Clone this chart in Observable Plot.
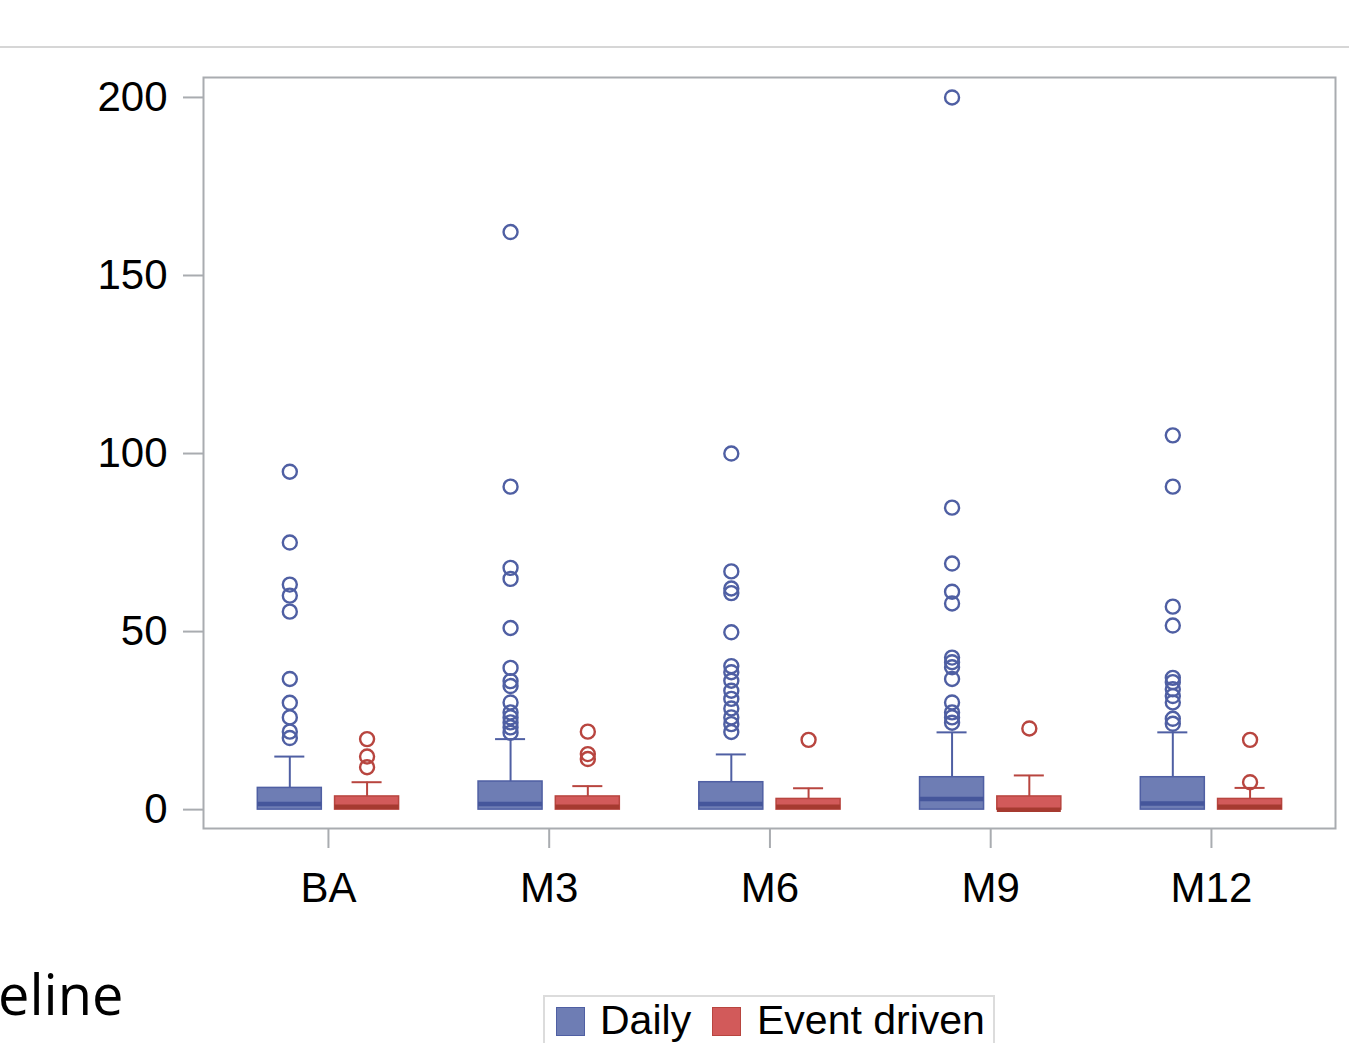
<!DOCTYPE html>
<html><head><meta charset="utf-8">
<script src="https://cdn.jsdelivr.net/npm/d3@7"></script>
<script src="https://cdn.jsdelivr.net/npm/@observablehq/plot@0.6"></script>
<style>
html,body{margin:0;padding:0;background:#fff;width:1349px;height:1043px;overflow:hidden;position:relative;font-family:"Liberation Sans",Arial,sans-serif}
#chart{position:absolute;left:0;top:0}
.topline{position:absolute;left:0;top:46px;width:1349px;height:2px;background:#d6d6d6}
.slide{position:absolute;left:-2px;top:965px;font-family:"Open Sans",sans-serif;font-size:56px;line-height:1;color:#000;white-space:nowrap}
.legend{position:absolute;left:543px;top:995px;width:452px;height:70px;border:2px solid #dcdcdc;box-sizing:border-box}
.sw{position:absolute;width:29px;height:29px;box-sizing:border-box}
.lt{position:absolute;font-size:41px;line-height:1;color:#000;white-space:nowrap}
</style></head>
<body>
<div class="topline"></div>
<div id="chart"></div>
<div class="slide">eline</div>
<div class="legend" id="legend"></div>
<script>
const categories = ["BA","M3","M6","M9","M12"];
const seriesNames = ["Daily","Event driven"];
const seriesFill = ["#6e7db4","#d25a5a"];
const seriesStroke = ["#4f5fa3","#b8453f"];
const seriesMedian = ["#45569b","#a63a30"];
const yTicks = [0,50,100,150,200];

const dailyQ1 = [0,0,0,0,0];
const dailyMedian = [1.6,1.6,1.6,3.0,1.7];
const dailyQ3 = [6.1,7.9,7.7,9.1,9.1];
const dailyWhiskerHigh = [14.9,19.8,15.5,21.7,21.7];

const eventQ1 = [0,0,0,0,0];
const eventMedian = [0.8,0.8,0.8,0,0.8];
const eventQ3 = [3.7,3.7,3.0,3.7,3.0];
const eventWhiskerHigh = [7.7,6.6,6.0,9.6,6.1];

const dailyOutliers = [
  [94.9,75.0,63.2,60.1,55.6,36.7,30.0,25.9,21.9,20.1],
  [162.2,90.7,67.9,64.8,51.0,39.8,36.1,34.7,30.1,27.3,25.9,24.5,23.1,21.6],
  [100.0,66.9,62.1,60.8,49.8,40.3,38.6,36.2,33.4,31.1,28.4,25.9,24.0,21.8],
  [200.0,84.8,69.1,61.2,57.9,42.7,41.4,40.0,36.7,30.1,27.3,25.9,24.4],
  [105.1,90.7,57.0,51.7,37.0,35.8,33.8,31.9,30.1,25.5,24.1]
];
const eventOutliers = [
  [19.8,14.9,11.9],
  [21.9,15.6,14.2],
  [19.6],
  [22.8],
  [19.6,7.7]
];

const offset = 0.175, half = 0.145, capHalf = 0.068;

function boxRows(s, q1, med, q3, wh) {
  const sign = s === 0 ? -1 : 1;
  return categories.map((c, i) => ({cat: c, s, x: i + sign * offset, q1: q1[i], med: med[i], q3: q3[i], wh: wh[i]}));
}
function outRows(s, arr) {
  const sign = s === 0 ? -1 : 1;
  return arr.flatMap((vals, i) => vals.map(v => ({s, x: i + sign * offset, v})));
}
const boxes = [...boxRows(0, dailyQ1, dailyMedian, dailyQ3, dailyWhiskerHigh), ...boxRows(1, eventQ1, eventMedian, eventQ3, eventWhiskerHigh)];
const outs = [...outRows(0, dailyOutliers), ...outRows(1, eventOutliers)];

const axisGray = "#a9acb0";
const chart = Plot.plot({
  width: 1349, height: 920,
  marginLeft: 203, marginRight: 14, marginTop: 77, marginBottom: 92,
  style: {fontFamily: "Liberation Sans, Arial, sans-serif", background: "transparent", overflow: "visible"},
  x: {type: "linear", domain: [-0.566, 4.562]},
  y: {domain: [-5.3, 205.6]},
  marks: [
    Plot.axisX({ticks: [0,1,2,3,4], tickFormat: i => categories[i], tickSize: 20, tickPadding: 24, fontSize: 42, stroke: axisGray, strokeWidth: 2, fill: "#000", label: null}),
    Plot.axisY({ticks: yTicks, tickSize: 20, tickPadding: 16, fontSize: 42, stroke: axisGray, strokeWidth: 2, fill: "#000", label: null}),
    Plot.ruleX(boxes, {x: "x", y1: "q3", y2: "wh", stroke: d => seriesStroke[d.s], strokeWidth: 2}),
    Plot.ruleY(boxes, {y: "wh", x1: d => d.x - capHalf, x2: d => d.x + capHalf, stroke: d => seriesStroke[d.s], strokeWidth: 2}),
    Plot.rect(boxes, {x1: d => d.x - half, x2: d => d.x + half, y1: "q1", y2: "q3", fill: d => seriesFill[d.s], stroke: d => seriesStroke[d.s], strokeWidth: 1.5}),
    Plot.ruleY(boxes, {y: "med", x1: d => d.x - half, x2: d => d.x + half, stroke: d => seriesMedian[d.s], strokeWidth: 4.5}),
    Plot.dot(outs, {x: "x", y: "v", r: 7, fill: "none", stroke: d => seriesStroke[d.s], strokeWidth: 2.4}),
    Plot.frame({stroke: axisGray, strokeWidth: 2})
  ]
});
document.getElementById("chart").appendChild(chart);

const legend = document.getElementById("legend");
const legendX = [[11, 55], [167, 212]];
seriesNames.forEach((name, i) => {
  const sw = document.createElement("div");
  sw.className = "sw";
  sw.style.left = legendX[i][0] + "px";
  sw.style.top = "10px";
  sw.style.background = seriesFill[i];
  sw.style.border = "1.5px solid " + seriesStroke[i];
  legend.appendChild(sw);
  const t = document.createElement("div");
  t.className = "lt";
  t.style.left = legendX[i][1] + "px";
  t.style.top = "3px";
  t.textContent = name;
  legend.appendChild(t);
});
</script>
</body></html>
